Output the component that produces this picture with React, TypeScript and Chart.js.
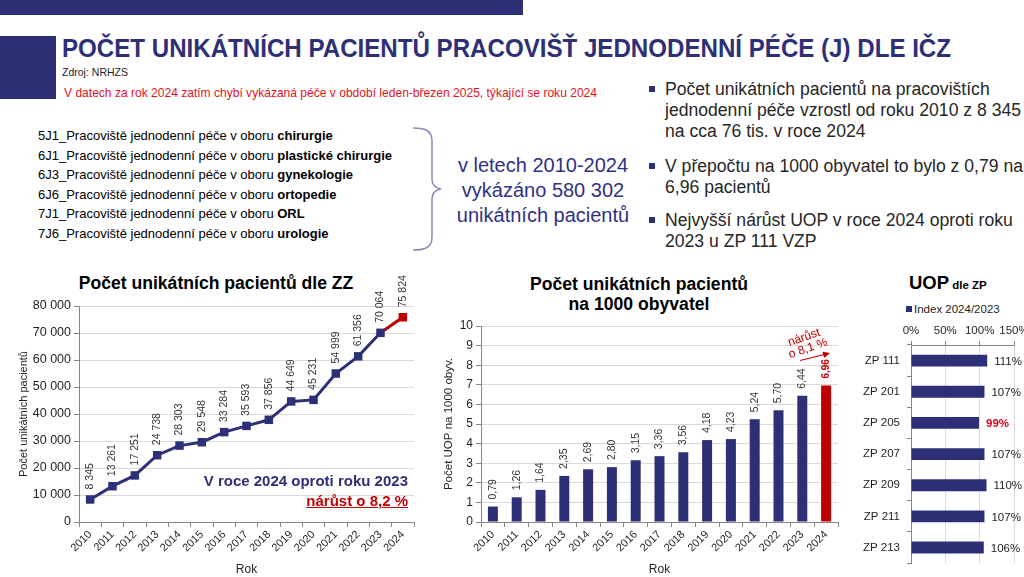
import React, { useEffect, useLayoutEffect, useRef } from 'react';
import { Chart, registerables } from 'chart.js';

Chart.register(...registerables);

const FONT = "'Liberation Sans', Arial, Helvetica, sans-serif";
const NARROW = "'Liberation Sans Narrow', 'Arial Narrow', 'Liberation Sans', Arial, sans-serif";
const NAVY = '#2E3077';
const RED = '#C00000';
const AXIS = '#868686';
const GRID = '#D9D9D9';
const TEXT = '#1f1f1f';

Chart.defaults.font.family = FONT;

// ---------- data ----------
const years = ['2010', '2011', '2012', '2013', '2014', '2015', '2016', '2017', '2018', '2019', '2020', '2021', '2022', '2023', '2024'];
const patients = [8345, 13261, 17251, 24738, 28303, 29548, 33284, 35593, 37856, 44649, 45231, 54999, 61356, 70064, 75824];
const per1000 = [0.79, 1.26, 1.64, 2.35, 2.69, 2.8, 3.15, 3.36, 3.56, 4.18, 4.23, 5.24, 5.7, 6.44, 6.96];
const insurers = ['ZP 111', 'ZP 201', 'ZP 205', 'ZP 207', 'ZP 209', 'ZP 211', 'ZP 213'];
const indexValues = [111, 107, 99, 107, 110, 107, 106];
const indexLabel = 'Index 2024/2023';

const departments = [
  ['5J1_Pracoviště jednodenní péče v oboru ', 'chirurgie'],
  ['6J1_Pracoviště jednodenní péče v oboru ', 'plastické chirurgie'],
  ['6J3_Pracoviště jednodenní péče v oboru ', 'gynekologie'],
  ['6J6_Pracoviště jednodenní péče v oboru ', 'ortopedie'],
  ['7J1_Pracoviště jednodenní péče v oboru ', 'ORL'],
  ['7J6_Pracoviště jednodenní péče v oboru ', 'urologie'],
];
const braceLines = ['v letech 2010-2024', 'vykázáno 580 302', 'unikátních pacientů'];
const bullets = [
  ['Počet unikátních pacientů na pracovištích', 'jednodenní péče vzrostl od roku 2010 z 8 345', 'na cca 76 tis. v roce 2024'],
  ['V přepočtu na 1000 obyvatel to bylo z 0,79 na', '6,96 pacientů'],
  ['Nejvyšší nárůst UOP v roce 2024 oproti roku', '2023 u ZP 111 VZP'],
];

const fmtThousands = (v: number) => String(Math.round(v)).replace(/\B(?=(\d{3})+(?!\d))/g, '\u00a0');
const fmtDec = (v: number) => v.toFixed(2).replace('.', ',');

// ---------- helpers ----------
type TxtProps = {
  x: number; y: number; size: number; bold?: boolean; color?: string; family?: string;
  align?: 'left' | 'center' | 'right'; fit?: number; underline?: boolean; children: React.ReactNode;
};

function Txt({ x, y, size, bold, color = '#000', family = FONT, align = 'left', fit, underline, children }: TxtProps) {
  const ref = useRef<HTMLDivElement>(null);
  useLayoutEffect(() => {
    if (!fit || !ref.current) return;
    const el = ref.current;
    el.style.transform = 'none';
    const w = el.getBoundingClientRect().width;
    if (w > 0) el.style.transform = `scaleX(${fit / w})`;
  }, [fit]);
  const lh = Math.round(size * 1.2);
  const style: React.CSSProperties = {
    position: 'absolute', top: y - lh / 2, fontSize: size, lineHeight: lh + 'px',
    fontWeight: bold ? 700 : 400, color, fontFamily: family, whiteSpace: 'nowrap',
    textDecoration: underline ? 'underline' : undefined,
  };
  if (align === 'left') { style.left = x; style.transformOrigin = 'left center'; }
  else if (align === 'right') { style.right = 1024 - x; style.transformOrigin = 'right center'; }
  else { style.left = x; style.transform = 'translateX(-50%)'; }
  return <div ref={ref} style={style}>{children}</div>;
}

function ChartBox({ left, top, width, height, make }: { left: number; top: number; width: number; height: number; make: (c: HTMLCanvasElement) => Chart }) {
  const ref = useRef<HTMLCanvasElement>(null);
  useEffect(() => {
    const chart = make(ref.current as HTMLCanvasElement);
    return () => chart.destroy();
  }, []);
  return <canvas ref={ref} width={width} height={height} style={{ position: 'absolute', left, top, width, height }} />;
}

// ---------- chart 1: line ----------
function makeLine(canvas: HTMLCanvasElement) {
  const last = patients.length - 1;
  const labelPlugin = {
    id: 'lineLabels',
    afterDatasetsDraw(chart: any) {
      const { ctx } = chart;
      const meta = chart.getDatasetMeta(0);
      const data = chart.data.datasets[0].data as number[];
      ctx.save();
      ctx.font = `10.5px ${FONT}`;
      ctx.fillStyle = '#333';
      ctx.textAlign = 'left';
      ctx.textBaseline = 'middle';
      meta.data.forEach((el: any, i: number) => {
        ctx.save();
        ctx.translate(el.x, el.y - 10);
        ctx.rotate(-Math.PI / 2);
        ctx.fillText(fmtThousands(data[i]), 0, 0);
        ctx.restore();
      });
      ctx.restore();
    },
  };
  return new Chart(canvas, {
    type: 'line',
    data: {
      labels: years,
      datasets: [{
        data: patients,
        borderColor: NAVY,
        borderWidth: 3,
        segment: { borderColor: (c: any) => (c.p1DataIndex === last ? RED : NAVY) },
        pointStyle: 'rect',
        pointRadius: 6,
        pointBorderWidth: 0,
        pointBackgroundColor: patients.map((_, i) => (i === last ? RED : NAVY)),
        tension: 0,
      }],
    },
    options: {
      responsive: false,
      animation: false,
      layout: { padding: { left: 10, right: 4, top: 46, bottom: 0 } },
      plugins: { legend: { display: false }, tooltip: { enabled: false }, title: { display: false } },
      scales: {
        x: {
          offset: true,
          grid: { offset: true, drawOnChartArea: false, tickLength: 5, color: AXIS },
          border: { color: AXIS },
          ticks: { autoSkip: false, minRotation: 45, maxRotation: 45, font: { size: 11 }, color: TEXT, padding: 1 },
          title: { display: true, text: 'Rok', font: { size: 12 }, color: TEXT, padding: { top: 5, bottom: 0 } },
          afterFit: (s: any) => { s.height = 55; s.paddingLeft = 0; s.paddingRight = 0; },
        },
        y: {
          min: 0, max: 80000,
          ticks: { stepSize: 10000, callback: (v: any) => fmtThousands(Number(v)), font: { size: 12.5 }, color: TEXT, padding: 3 },
          grid: { color: GRID, tickColor: AXIS, tickLength: 5 },
          border: { color: AXIS },
          title: { display: true, text: 'Počet unikátních pacientů', font: { size: 11 }, color: TEXT, padding: { top: 7, bottom: 0 } },
          afterFit: (s: any) => { s.width = 69; },
        },
      },
    } as any,
    plugins: [labelPlugin],
  });
}

// ---------- chart 2: bars per 1000 ----------
function makeBars(canvas: HTMLCanvasElement) {
  const last = per1000.length - 1;
  const labelPlugin = {
    id: 'barLabels',
    afterDatasetsDraw(chart: any) {
      const { ctx } = chart;
      const meta = chart.getDatasetMeta(0);
      const data = chart.data.datasets[0].data as number[];
      ctx.save();
      ctx.textAlign = 'left';
      ctx.textBaseline = 'middle';
      meta.data.forEach((el: any, i: number) => {
        ctx.save();
        ctx.font = i === last ? `bold 10px ${FONT}` : `10.5px ${FONT}`;
        ctx.fillStyle = i === last ? RED : '#333';
        ctx.translate(el.x, el.y - 7);
        ctx.rotate(-Math.PI / 2);
        ctx.fillText(fmtDec(data[i]), 0, 0);
        ctx.restore();
      });
      // growth annotation anchored to the last bar
      const lb = meta.data[last];
      ctx.fillStyle = RED;
      ctx.strokeStyle = RED;
      ctx.font = `12px ${FONT}`;
      ctx.textAlign = 'center';
      const ang = -0.33;
      ctx.save(); ctx.translate(lb.x - 22, lb.y - 48); ctx.rotate(ang); ctx.fillText('nárůst', 0, 0); ctx.restore();
      ctx.save(); ctx.translate(lb.x - 18, lb.y - 37); ctx.rotate(ang); ctx.fillText('o 8,1 %', 0, 0); ctx.restore();
      const x0 = lb.x - 26, y0 = lb.y - 25, x1 = lb.x + 4, y1 = lb.y - 32.5;
      ctx.lineWidth = 1.1;
      const a = Math.atan2(y1 - y0, x1 - x0);
      ctx.beginPath(); ctx.moveTo(x0, y0); ctx.lineTo(x1 - 5 * Math.cos(a), y1 - 5 * Math.sin(a)); ctx.stroke();
      ctx.beginPath();
      ctx.moveTo(x1, y1);
      ctx.lineTo(x1 - 7 * Math.cos(a) + 3.2 * Math.sin(a), y1 - 7 * Math.sin(a) - 3.2 * Math.cos(a));
      ctx.lineTo(x1 - 7 * Math.cos(a) - 3.2 * Math.sin(a), y1 - 7 * Math.sin(a) + 3.2 * Math.cos(a));
      ctx.closePath(); ctx.fill();
      ctx.restore();
    },
  };
  return new Chart(canvas, {
    type: 'bar',
    data: {
      labels: years,
      datasets: [{
        data: per1000,
        backgroundColor: per1000.map((_, i) => (i === last ? RED : NAVY)),
        barPercentage: 0.42,
        categoryPercentage: 1,
      }],
    },
    options: {
      responsive: false,
      animation: false,
      layout: { padding: { left: 15, right: 2, top: 66, bottom: 0 } },
      plugins: { legend: { display: false }, tooltip: { enabled: false } },
      scales: {
        x: {
          grid: { offset: true, drawOnChartArea: false, tickLength: 5, color: AXIS },
          border: { color: AXIS },
          ticks: { autoSkip: false, minRotation: 45, maxRotation: 45, font: { size: 11 }, color: TEXT, padding: 1 },
          title: { display: true, text: 'Rok', font: { size: 12 }, color: TEXT, padding: { top: 5, bottom: 0 } },
          afterFit: (s: any) => { s.height = 55; s.paddingLeft = 0; s.paddingRight = 0; },
        },
        y: {
          min: 0, max: 10,
          ticks: { stepSize: 1, font: { size: 12 }, color: TEXT, padding: 3 },
          grid: { color: GRID, tickColor: AXIS, tickLength: 5 },
          border: { color: AXIS },
          title: { display: true, text: 'Počet UOP na 1000 obyv.', font: { size: 11.5 }, color: TEXT, padding: { top: 7, bottom: 0 } },
          afterFit: (s: any) => { s.width = 46; },
        },
      },
    } as any,
    plugins: [labelPlugin],
  });
}

// ---------- chart 3: horizontal index bars ----------
function makeIndex(canvas: HTMLCanvasElement) {
  const labelPlugin = {
    id: 'indexLabels',
    afterDatasetsDraw(chart: any) {
      const { ctx } = chart;
      const meta = chart.getDatasetMeta(0);
      const data = chart.data.datasets[0].data as number[];
      ctx.save();
      ctx.textAlign = 'left';
      ctx.textBaseline = 'middle';
      meta.data.forEach((el: any, i: number) => {
        const low = data[i] < 100;
        ctx.font = low ? `bold 11.5px ${FONT}` : `11.5px ${FONT}`;
        ctx.fillStyle = low ? '#E0001B' : '#222';
        ctx.fillText(data[i] + '%', el.x + 7, el.y + 1);
      });
      ctx.restore();
    },
  };
  return new Chart(canvas, {
    type: 'bar',
    data: {
      labels: insurers,
      datasets: [{
        label: indexLabel,
        data: indexValues,
        backgroundColor: NAVY,
        barPercentage: 0.38,
        categoryPercentage: 1,
      }],
    },
    options: {
      indexAxis: 'y',
      responsive: false,
      animation: false,
      layout: { padding: { left: 0, right: 10, top: 0, bottom: 6 } },
      plugins: { legend: { display: false }, tooltip: { enabled: false } },
      scales: {
        x: {
          position: 'top',
          min: 0, max: 150,
          ticks: { stepSize: 50, autoSkip: false, minRotation: 0, maxRotation: 0, callback: (v: any) => v + '%', font: { size: 11.5 }, color: TEXT, padding: 3 },
          grid: { color: GRID, tickColor: AXIS, tickLength: 4 },
          border: { color: AXIS },
          afterFit: (s: any) => { s.height = 85; s.paddingLeft = 0; s.paddingRight = 0; },
        },
        y: {
          grid: { offset: true, drawOnChartArea: false, tickLength: 4, color: AXIS },
          border: { color: AXIS },
          ticks: { font: { size: 11.5 }, color: TEXT, padding: 7 },
          afterFit: (s: any) => { s.width = 81; },
        },
      },
    } as any,
    plugins: [labelPlugin],
  });
}

// ---------- app ----------
export default function App() {
  return (
    <div style={{ position: 'absolute', left: 0, top: 0, width: 1024, height: 577, overflow: 'hidden', background: '#fff', fontFamily: FONT }}>
      {/* decorative bars */}
      <div style={{ position: 'absolute', left: 0, top: 0, width: 523, height: 15, background: NAVY }} />
      <div style={{ position: 'absolute', left: 0, top: 36, width: 56, height: 63, background: NAVY }} />

      {/* header */}
      <Txt x={62} y={48} size={26} bold color={NAVY} family={NARROW} fit={889}>
        POČET UNIKÁTNÍCH PACIENTŮ PRACOVIŠŤ JEDNODENNÍ PÉČE (J) DLE IČZ
      </Txt>
      <Txt x={62} y={72} size={11} color="#222" family={NARROW} fit={66}>Zdroj: NRHZS</Txt>
      <Txt x={64} y={93} size={13} color="#E0141E" family={NARROW} fit={533}>
        V datech za rok 2024 zatím chybí vykázaná péče v období leden-březen 2025, týkající se roku 2024
      </Txt>

      {/* department list */}
      {departments.map((d, i) => (
        <Txt key={i} x={38} y={136 + i * 19.6} size={13} color="#000">
          {d[0]}<b>{d[1]}</b>
        </Txt>
      ))}

      {/* brace */}
      <svg width={40} height={130} style={{ position: 'absolute', left: 410, top: 123 }}>
        <path d="M3 5 C 16 5, 22 8, 22 18 L 22 56 C 22 62, 25 65, 31 66 C 25 67, 22 70, 22 76 L 22 114 C 22 124, 16 127, 3 127"
          fill="none" stroke="#8A8AB8" strokeWidth={1.5} />
      </svg>
      {braceLines.map((t, i) => (
        <Txt key={i} x={543} y={165 + i * 25} size={20} color="#2F3185" align="center">{t}</Txt>
      ))}

      {/* bullets */}
      {bullets.map((b, bi) => {
        const y0 = [89, 166, 220][bi];
        return (
          <React.Fragment key={bi}>
            <div style={{ position: 'absolute', left: 649, top: y0 - 3, width: 6, height: 6, background: NAVY }} />
            {b.map((line, li) => (
              <Txt key={li} x={665} y={y0 + li * 21.3} size={17.6} color="#262626">{line}</Txt>
            ))}
          </React.Fragment>
        );
      })}

      {/* chart titles */}
      <Txt x={216} y={283} size={17.6} bold color="#000" align="center">Počet unikátních pacientů dle ZZ</Txt>
      <Txt x={639} y={284} size={17.6} bold color="#000" align="center">Počet unikátních pacientů</Txt>
      <Txt x={639} y={304} size={17.6} bold color="#000" align="center">na 1000 obyvatel</Txt>
      <div style={{ position: 'absolute', left: 909, top: 271, whiteSpace: 'nowrap', fontFamily: FONT, fontWeight: 700, color: '#000', lineHeight: '24px' }}>
        <span style={{ fontSize: 18.5 }}>UOP</span>
        <span style={{ fontSize: 11.5 }}> dle ZP</span>
      </div>
      <div style={{ position: 'absolute', left: 906, top: 306, width: 6, height: 6, background: NAVY }} />
      <Txt x={914} y={309} size={11.5} color="#222">{indexLabel}</Txt>

      {/* charts */}
      <ChartBox left={0} top={260} width={420} height={317} make={makeLine} />
      <ChartBox left={420} top={260} width={420} height={317} make={makeBars} />
      <ChartBox left={830} top={260} width={194} height={317} make={makeIndex} />

      {/* chart 1 annotation */}
      <Txt x={408} y={481} size={15} bold color={NAVY} align="right">V roce 2024 oproti roku 2023</Txt>
      <Txt x={408} y={501} size={15} bold color={RED} align="right" underline>nárůst o 8,2 %</Txt>
    </div>
  );
}
